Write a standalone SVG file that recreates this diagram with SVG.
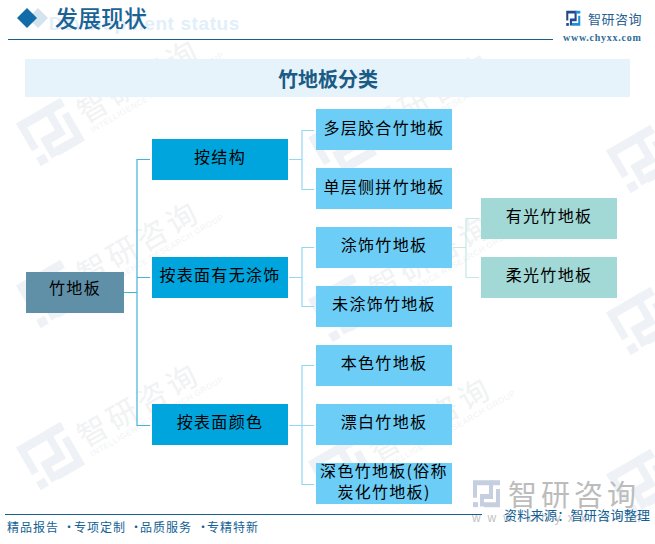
<svg xmlns="http://www.w3.org/2000/svg" xmlns:xlink="http://www.w3.org/1999/xlink" width="655" height="544" viewBox="0 0 655 544">
<style>
text{font-family:"Noto Sans CJK SC","Liberation Sans",sans-serif}
.n{font-size:16px;letter-spacing:1.3px;fill:#000;text-anchor:middle}
.root{fill:#5f90a8}.mid{fill:#00a5dd}.leaf{fill:#6ccdf7}.sub{fill:#a2d8d6}
.c1,.c2,.c3{fill:none;stroke-width:1.2}
.c1{stroke:#45b2de}.c2{stroke:#92d8f6}.c3{stroke:#c4e8e6}
.wm{font-size:30px;letter-spacing:4px;fill:#f1f2f3}
.wme{font-family:"Liberation Sans",sans-serif;font-size:8px;letter-spacing:.6px;fill:#f1f3f4}
.f{font-size:12px;letter-spacing:1px;fill:#135f95}
</style>
<defs>
<g id="markL" fill="none" stroke-width="4">
<path d="M-11 3V-9H5V2H-4V10"/>
<path d="M-13 8.500H-8"/>
</g>
<g id="markR" fill="none" stroke-width="4">
<path d="M-2 8.500H12V-4"/>
<path d="M5 -9H14"/>
</g>
<g id="wm">
<g stroke="#eef2f6" transform="scale(1.9,2.300)"><use xlink:href="#markL"/><use xlink:href="#markR"/></g>
<text class="wm" x="35" y="10">智研咨询</text>
<text class="wme" x="37" y="21">INTELLIGENCE RESEARCH GROUP</text>
</g>
</defs>
<rect width="655" height="544" fill="#fff"/>
<g id="watermarks">
<use xlink:href="#wm" transform="translate(50,133) rotate(-30)"/>
<use xlink:href="#wm" transform="translate(50,295) rotate(-30)"/>
<use xlink:href="#wm" transform="translate(50,457) rotate(-30)"/>
<use xlink:href="#wm" transform="translate(342,147) rotate(-30)"/>
<use xlink:href="#wm" transform="translate(342,309) rotate(-30)"/>
<use xlink:href="#wm" transform="translate(342,471) rotate(-30)"/>
<use xlink:href="#wm" transform="translate(640,160) rotate(-30)"/>
<use xlink:href="#wm" transform="translate(640,322) rotate(-30)"/>
<use xlink:href="#wm" transform="translate(640,484) rotate(-30)"/>
</g>
<g id="header">
<text x="240" y="30" text-anchor="end" style="font-family:'Liberation Sans',sans-serif;font-weight:700;font-size:19px;letter-spacing:.6px" fill="#e2effa">Development status</text>
<path d="M38 8L48 18L38 28L28 18Z" fill="#d3e4ef"/>
<path d="M27 8L37 18L27 28L17 18Z" fill="#126ca8"/>
<text x="55" y="27" style="font-size:23px;font-weight:500" fill="#1a6394">发展现状</text>
<path d="M8 39.500H553" stroke="#1a5f8a" stroke-width="1" fill="none"/>
</g>
<g id="brand">
<g transform="translate(573,18.500) scale(.52,.7)"><use xlink:href="#markL" stroke="#23468c"/><use xlink:href="#markR" stroke="#1f8fdc"/></g>
<text x="588" y="24" style="font-size:13px;letter-spacing:.5px" fill="#1f6192">智研咨询</text>
<text x="563" y="41" style="font-family:'Liberation Serif',serif;font-weight:700;font-size:10px;letter-spacing:.75px" fill="#2d6c97">www.chyxx.com</text>
</g>
<rect id="title-band" x="25" y="59" width="605" height="38" fill="#e6f3fb"/>
<text id="title" x="328" y="87" text-anchor="middle" style="font-size:20px;font-weight:700" fill="#1a5b85">竹地板分类</text>
<g id="connectors">
<path class="c1" d="M124 292.500H137M150 159.500H137V425.500H150M137 277.500H150"/>
<path class="c2" d="M289 159.500H302M314 130.500H302V189.500H314"/>
<path class="c2" d="M289 277.500H302M314 247.500H302V306.500H314"/>
<path class="c2" d="M289 425.500H314M314 365.500H302V484.500H314"/>
<path class="c3" d="M453 247.500H466M479 218.500H466V277.500H479"/>
</g>
<g id="n-root"><rect class="root" x="26" y="272" width="98" height="41"/><text class="n" x="75" y="294">竹地板</text></g>
<g id="n-structure"><rect class="mid" x="152" y="139" width="136" height="41"/><text class="n" x="220" y="163">按结构</text></g>
<g id="n-coating"><rect class="mid" x="152" y="257" width="136" height="41"/><text class="n" x="220" y="281">按表面有无涂饰</text></g>
<g id="n-colour"><rect class="mid" x="152" y="404" width="136" height="41"/><text class="n" x="220" y="428">按表面颜色</text></g>
<g id="n-multi"><rect class="leaf" x="316" y="109" width="136" height="41"/><text class="n" x="384" y="134">多层胶合竹地板</text></g>
<g id="n-single"><rect class="leaf" x="316" y="168" width="136" height="41"/><text class="n" x="384" y="193">单层侧拼竹地板</text></g>
<g id="n-coated"><rect class="leaf" x="316" y="227" width="136" height="41"/><text class="n" x="384" y="251">涂饰竹地板</text></g>
<g id="n-uncoated"><rect class="leaf" x="316" y="286" width="136" height="41"/><text class="n" x="384" y="310">未涂饰竹地板</text></g>
<g id="n-natural"><rect class="leaf" x="316" y="345" width="136" height="41"/><text class="n" x="384" y="369">本色竹地板</text></g>
<g id="n-bleached"><rect class="leaf" x="316" y="404" width="136" height="41"/><text class="n" x="384" y="428">漂白竹地板</text></g>
<g id="n-dark"><rect class="leaf" x="316" y="463" width="136" height="41"/><text class="n" x="384" y="477">深色竹地板(俗称</text><text class="n" x="384" y="498">炭化竹地板)</text></g>
<g id="n-glossy"><rect class="sub" x="481" y="198" width="136" height="41"/><text class="n" x="549" y="222">有光竹地板</text></g>
<g id="n-matte"><rect class="sub" x="481" y="257" width="136" height="41"/><text class="n" x="549" y="281">柔光竹地板</text></g>
<g id="footer-watermark">
<g stroke="#c5cfe0" transform="translate(486,494) scale(1,1.250)"><use xlink:href="#markL"/><use xlink:href="#markR"/></g>
<text x="508" y="506" style="font-size:29px;letter-spacing:4px" fill="#bcbcbc">智研咨询</text>
<text x="472" y="522" style="font-family:'Liberation Sans',sans-serif;font-size:12px;letter-spacing:6.900px" fill="#c2c2c2">www.chyxx.com</text>
</g>
<g id="footer">
<path d="M5 514.500H482" stroke="#1a5f8a" stroke-width="1" fill="none"/>
<text class="f" y="532"><tspan x="7">精品报告</tspan><tspan x="63">·</tspan><tspan x="74">专项定制</tspan><tspan x="130">·</tspan><tspan x="140">品质服务</tspan><tspan x="197">·</tspan><tspan x="207">专精特新</tspan></text>
<text x="504" y="520" style="font-size:13px;letter-spacing:.3px" fill="#135f95">资料来源：智研咨询整理</text>
</g>
</svg>
